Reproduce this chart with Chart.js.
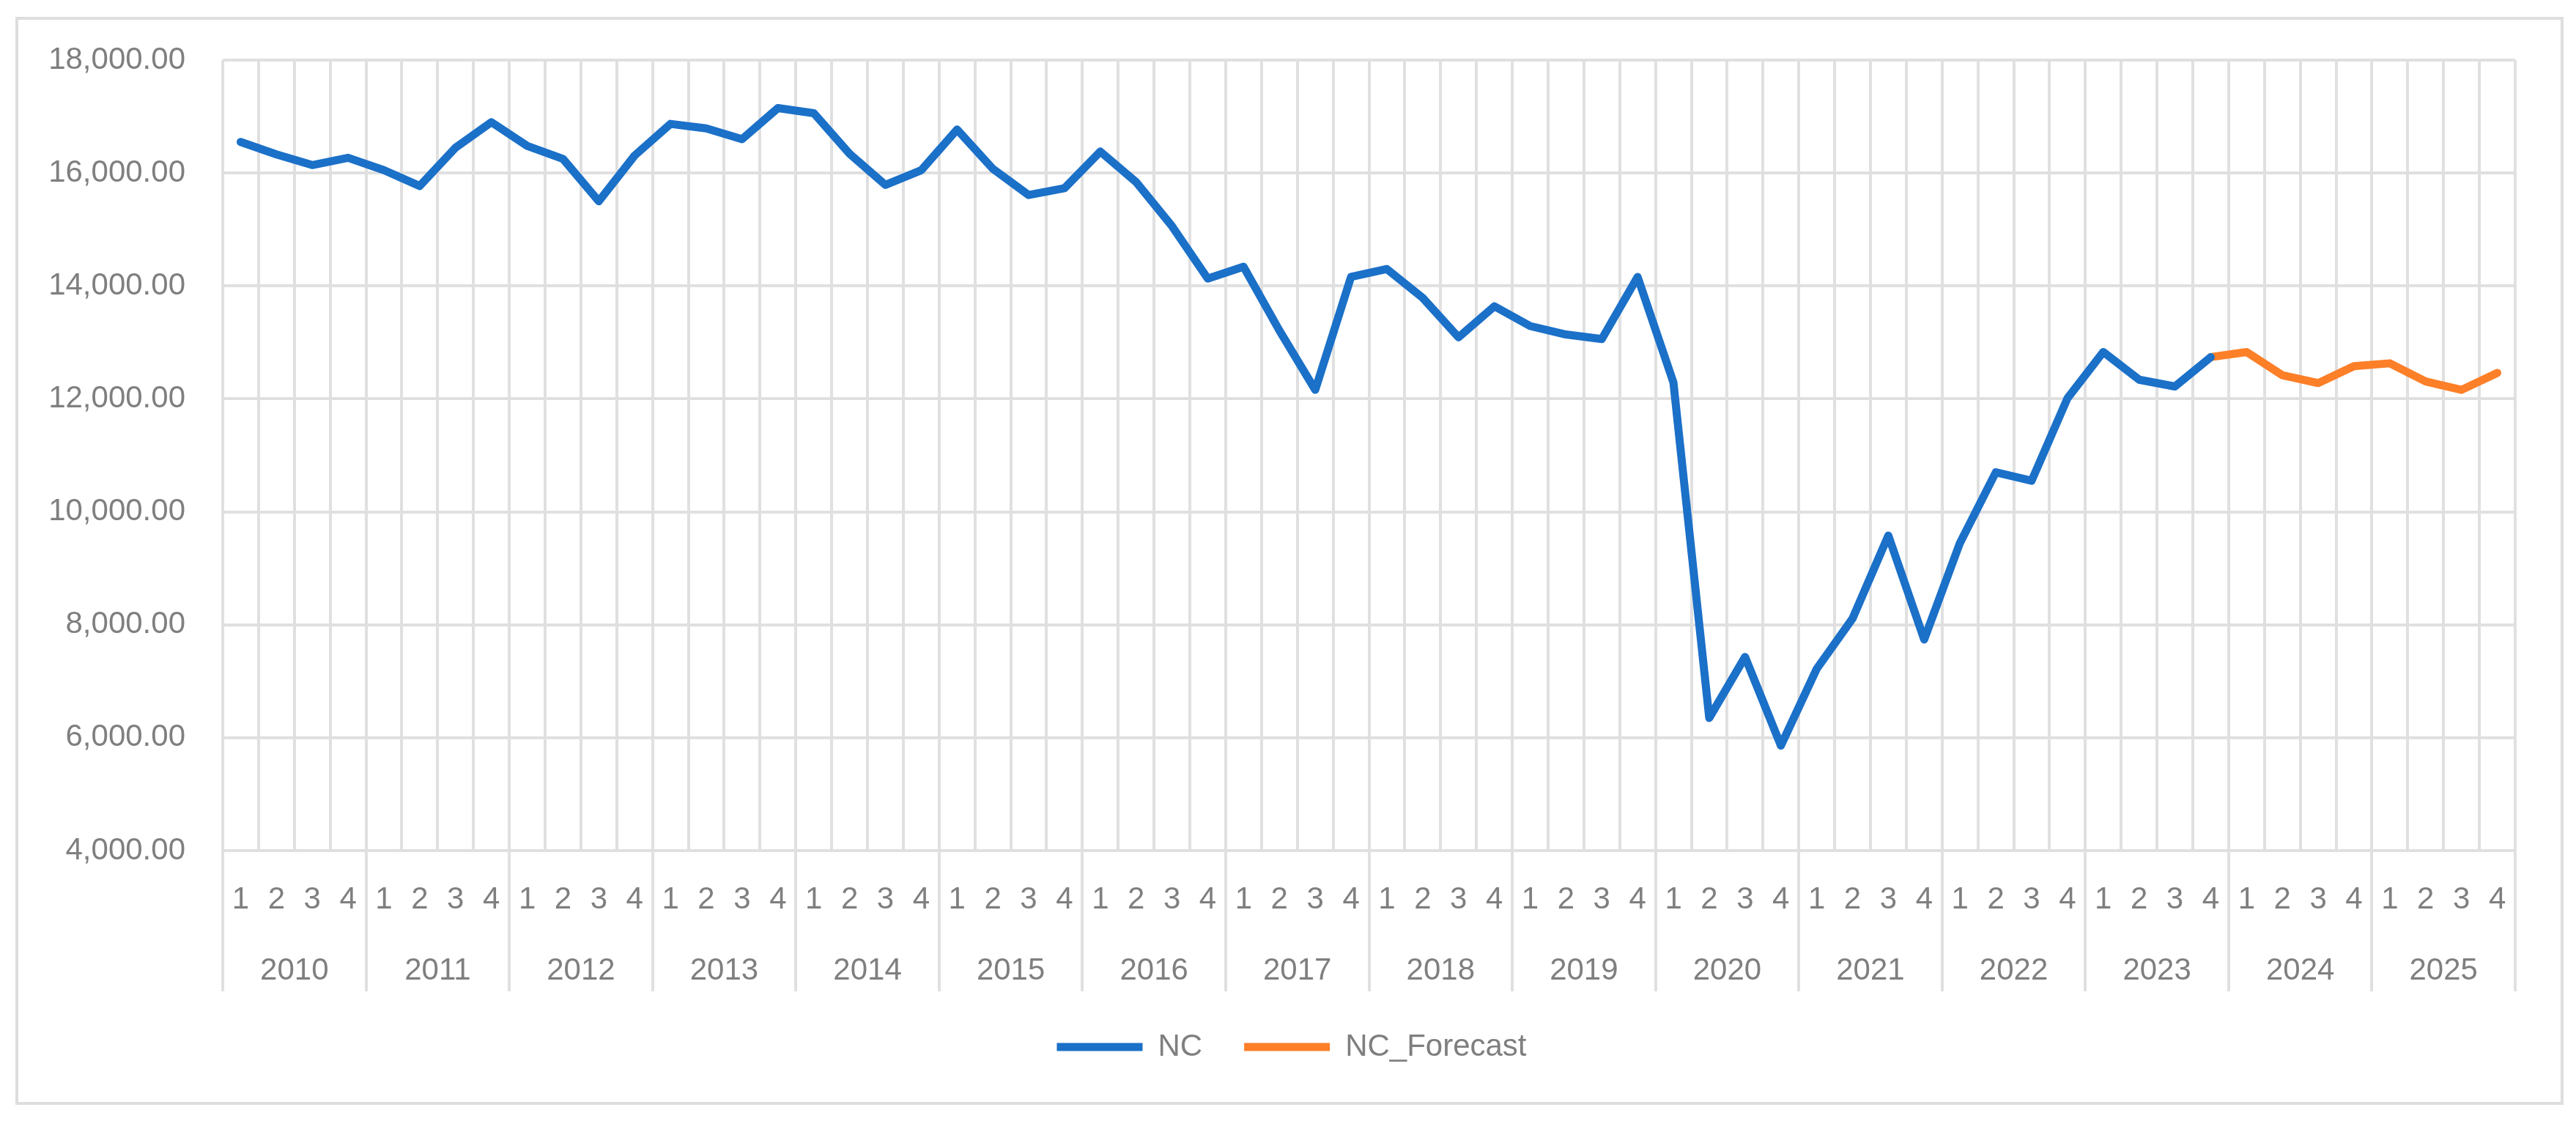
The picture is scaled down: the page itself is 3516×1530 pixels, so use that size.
<!DOCTYPE html>
<html>
<head>
<meta charset="utf-8">
<title>NC</title>
<script src="https://cdn.jsdelivr.net/npm/chart.js@4.4.1/dist/chart.umd.min.js"></script>
<style>
  html, body { margin: 0; padding: 0; background: #fff; overflow: hidden; }
  #wrap { position: relative; width: 3516px; height: 1530px; }
  #frame { position: absolute; left: 21px; top: 23px; width: 3470px; height: 1477px; border: 4px solid #dedede; }
  #chart { position: absolute; left: 0; top: 0; }
</style>
</head>
<body>
<div id="wrap">
  <div id="frame"></div>
  <canvas id="chart" width="3516" height="1530"></canvas>
</div>
<script>
// categories
const years = ['2010', '2011', '2012', '2013', '2014', '2015', '2016', '2017',
               '2018', '2019', '2020', '2021', '2022', '2023', '2024', '2025'];
const quarters = ['1', '2', '3', '4'];

// NC, 2010 Q1 .. 2023 Q4
const ncValues = [
    16550, 16330, 16140, 16270,
    16050, 15770, 16450, 16900,
    16480, 16250, 15500, 16310,
    16870, 16790, 16600, 17150,
    17060, 16340, 15790, 16050,
    16770, 16075, 15610, 15730,
    16380, 15840, 15060, 14130,
    14340, 13210, 12160, 14160,
    14300, 13790, 13090, 13640,
    13290, 13140, 13060, 14160,
    12290, 6350, 7430, 5860,
    7220, 8110, 9580, 7740,
    9450, 10700, 10550, 12010,
    12830, 12340, 12220, 12740
];
// NC_Forecast, 2023 Q4 .. 2025 Q4
const forecastValues = [12740, 12830, 12420, 12280, 12580, 12630, 12310, 12160, 12460];

// y axis ticks
const yTicks = [4000, 6000, 8000, 10000, 12000, 14000, 16000, 18000];

const textColor = '#7f7f7f';
const gridColor = '#e0e0e0';
const fontFamily = '"Liberation Sans", Arial, sans-serif';
const leftPad = 40;

const quarterLabels = [];
years.forEach(() => quarters.forEach(q => quarterLabels.push(q)));

const forecastStart = ncValues.length - 1;

const ncData = quarterLabels.map((q, i) => i < ncValues.length ? ncValues[i] : null);
const forecastData = quarterLabels.map((q, i) => i >= forecastStart ? forecastValues[i - forecastStart] : null);

// the legend is centred on the outer frame, not on the canvas minus paddings
const legendShift = {
    id: 'legendShift',
    afterLayout(chart) {
        if (chart.legend) {
            chart.legend.left = 93;
        }
    }
};

const ctx = document.getElementById('chart').getContext('2d');
const chart = new Chart(ctx, {
    type: 'line',
    data: {
        labels: quarterLabels,
        datasets: [{
            label: 'NC',
            data: ncData,
            borderColor: '#1b70c8',
            backgroundColor: '#1b70c8',
            borderWidth: 11,
            borderJoinStyle: 'round',
            borderCapStyle: 'round',
            pointRadius: 0,
            tension: 0,
            xAxisID: 'x'
        }, {
            label: 'NC_Forecast',
            data: forecastData,
            borderColor: '#fd7f28',
            backgroundColor: '#fd7f28',
            borderWidth: 11,
            borderJoinStyle: 'round',
            borderCapStyle: 'round',
            pointRadius: 0,
            tension: 0,
            xAxisID: 'x'
        }]
    },
    options: {
        responsive: false,
        animation: false,
        layout: {
            padding: { left: leftPad, right: 83, top: 82, bottom: 70 }
        },
        plugins: {
            legend: {
                position: 'bottom',
                labels: {
                    usePointStyle: true,
                    pointStyle: 'line',
                    pointStyleWidth: 117,
                    color: textColor,
                    font: { family: fontFamily, size: 42 },
                    padding: 57
                }
            },
            tooltip: { enabled: false }
        },
        scales: {
            x: {
                type: 'category',
                position: 'bottom',
                offset: true,
                afterFit: scale => { scale.height = 94; },
                border: { display: false },
                grid: {
                    offset: true,
                    color: gridColor,
                    lineWidth: 4,
                    drawTicks: true,
                    tickLength: 192,
                    tickWidth: 4,
                    // only year boundaries run down through the label rows
                    tickColor: c => (c.index === undefined || c.index % 4 === 0) ? gridColor : 'rgba(0,0,0,0)'
                },
                ticks: {
                    color: textColor,
                    font: { family: fontFamily, size: 42 },
                    autoSkip: false,
                    maxRotation: 0,
                    padding: -150
                }
            },
            x2: {
                type: 'category',
                position: 'bottom',
                labels: years,
                offset: true,
                afterFit: scale => { scale.height = 96; },
                border: { display: false },
                grid: { display: false, drawTicks: false },
                ticks: {
                    color: textColor,
                    font: { family: fontFamily, size: 42 },
                    autoSkip: false,
                    maxRotation: 0,
                    padding: 45
                }
            },
            y: {
                min: 4000,
                max: 18000,
                afterFit: scale => { scale.width = 304 - leftPad; },
                afterBuildTicks: scale => { scale.ticks = yTicks.map(v => ({ value: v })); },
                border: { display: false },
                grid: { color: gridColor, lineWidth: 4, drawTicks: false },
                ticks: {
                    color: textColor,
                    font: { family: fontFamily, size: 42 },
                    padding: 51,
                    callback: v => v.toLocaleString('en-US', { minimumFractionDigits: 2, maximumFractionDigits: 2 })
                }
            }
        }
    },
    plugins: [legendShift]
});
</script>
</body>
</html>
